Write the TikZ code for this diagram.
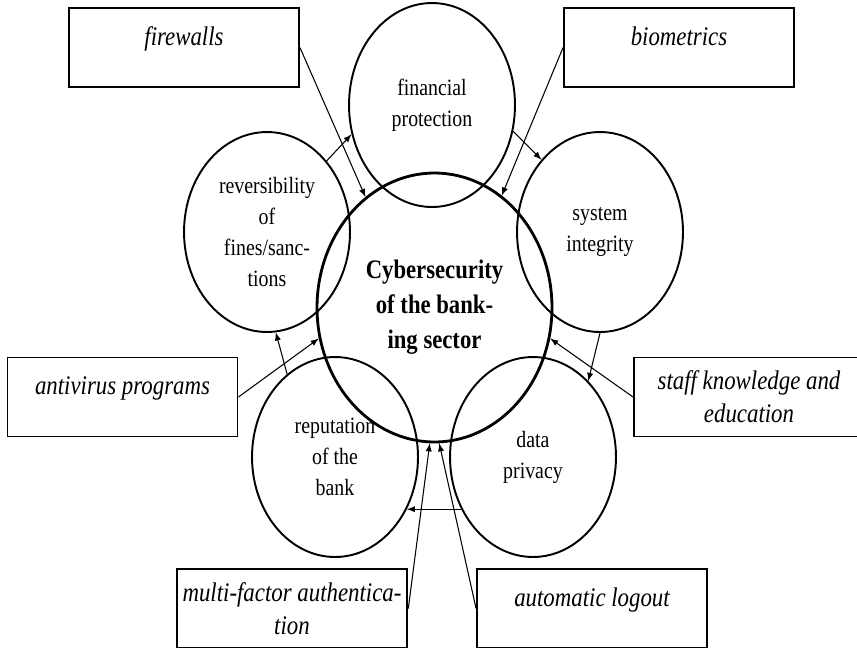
\documentclass[tikz,border=0pt]{standalone}
\usepackage{fontspec}
\setmainfont{Liberation Serif}[FakeStretch=0.85]
\usetikzlibrary{shapes.geometric}
\begin{document}
\begin{tikzpicture}[x=0.02cm,y=-0.02cm]
          \tikzstyle{core} = [ellipse, draw, line width=1.6pt, minimum width=4.7cm, minimum height=5.38cm, align=center, font=\fontsize{15.2}{20}\selectfont\bfseries]
          \tikzstyle{aspect} = [ellipse, draw, line width=1.1pt, minimum width=3.32cm, minimum height=4cm, inner sep=0pt, align=center, font=\fontsize{13.3}{17.6}\selectfont]
          \tikzstyle{tool} = [rectangle, draw, line width=1.1pt, minimum width=4.6cm, minimum height=1.58cm, align=center, font=\fontsize{15.3}{18.7}\selectfont\itshape]
          \tikzstyle{oneline} = [text depth=0.45cm]
          \tikzstyle{link} = [-latex, line width=0.6pt]
        \useasboundingbox (0,0) rectangle (857,647);
        % centre and the five aspects
        \node[core] (cyber) at (434.5,307.5) {Cybersecurity\\of the bank-\\ing sector};
        \node[aspect, minimum height=4.08cm] (fin) at (432,105) {financial\\protection};
        \node[aspect] (rev) at (267,232) {reversibility\\of\\fines/sanc-\\tions};
        \node[aspect] (sys) at (600,232) {system\\integrity};
        \node[aspect] (rep) at (335,457) {reputation\\of the\\bank};
        \node[aspect] (dat) at (533,457) {data\\privacy};
        % tools
        \node[tool, oneline] (fw) at (184,47.5) {firewalls};
        \node[tool, oneline] (bio) at (679,47.5) {biometrics};
        \node[tool, oneline] (av) at (122.5,397) {antivirus programs};
        \node[tool] (staff) at (749,397) {staff knowledge and\\education};
        \node[tool] (mfa) at (292,608.5) {multi-factor authentica-\\tion};
        \node[tool, oneline] (auto) at (592,608.5) {automatic logout};
        \begin{scope}
          \draw[link] (fw.east) -- (cyber.122);
          \draw[link] (bio.west) -- (cyber.59);
          \draw[link] (av.east) -- (cyber.195);
          \draw[link] (staff.west) -- (cyber.-15);
          \draw[link] (mfa.east) -- (cyber.-92);
          \draw[link] (auto.west) -- (cyber.-88);
          \draw[link] (rev.50) -- (fin.200);
          \draw[link] (fin.-18) -- (sys.129);
          \draw[link] (sys.-90) -- (dat.54);
          \draw[link] (dat.216) -- (rep.-36);
          \draw[link] (rep.120) -- (rev.-85);
        \end{scope}
      \end{tikzpicture}
\end{document}
